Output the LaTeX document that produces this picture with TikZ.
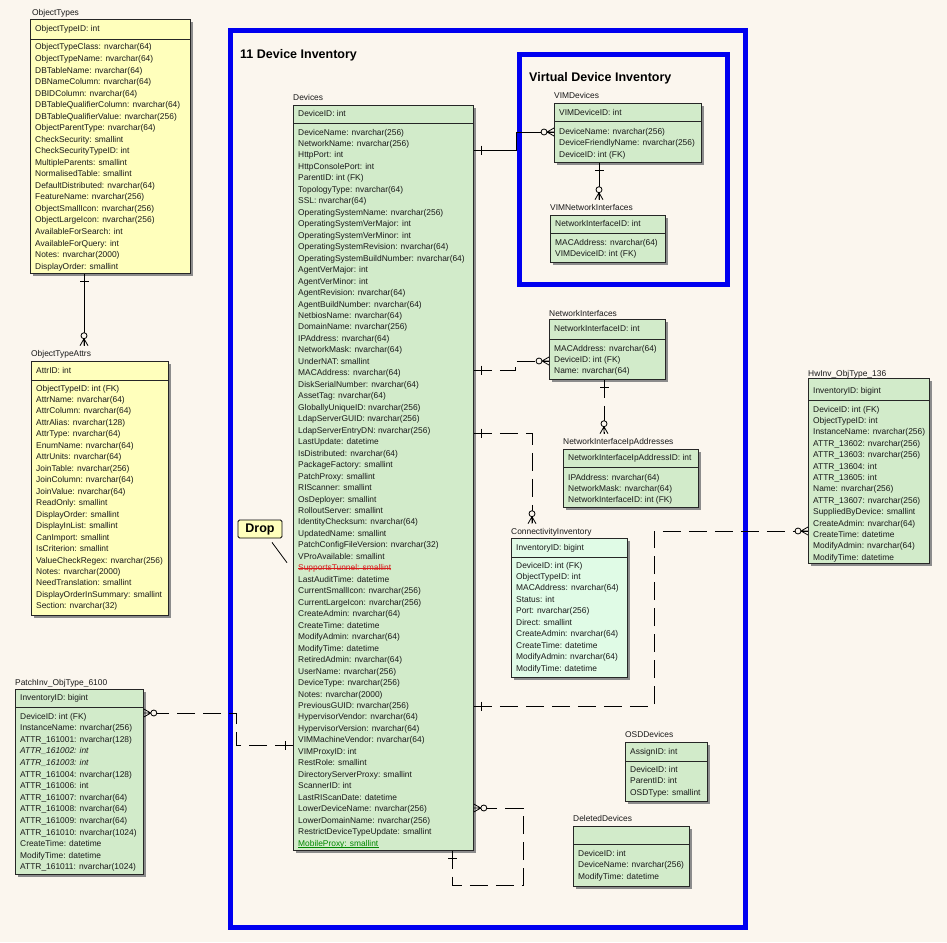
\documentclass[tikz,border=0pt]{standalone}
\usepackage{fontspec}
\setmainfont{Liberation Sans}
\usetikzlibrary{shadows,calc}

\definecolor{bg}{RGB}{251,246,238}
\definecolor{erblue}{RGB}{0,0,240}
\definecolor{ergreen}{RGB}{210,235,202}
\definecolor{ermint}{RGB}{224,251,230}
\definecolor{eryellow}{RGB}{255,255,188}
\definecolor{erred}{RGB}{215,30,30}
\definecolor{ergreentext}{RGB}{0,135,0}

\begin{document}
\begin{tikzpicture}[x=1pt, y=-1pt,
    erbox/.style={draw=black!85, line width=0.8pt, anchor=north west, inner sep=0pt,
        drop shadow={shadow xshift=3pt, shadow yshift=-3pt, fill=black!45, opacity=1}},
    erow/.style={anchor=base west, inner sep=0pt, font=\fontsize{8.4}{10}\selectfont, text=black!90},
    ertitle/.style={erow},
    erline/.style={draw=black!85, line width=0.8pt},
    rel/.style={line width=0.8pt},
    reldash/.style={rel, dash pattern=on 18pt off 8pt},
    areaframe/.style={draw=erblue, line width=5pt},
    areatitle/.style={anchor=west, inner sep=0pt, font=\bfseries\fontsize{12.5}{14}\selectfont},
    dropbox/.style={draw, line width=0.8pt, fill=eryellow, rounded corners=1.5pt, minimum width=44pt,
        minimum height=18pt, inner sep=0pt, font=\bfseries\fontsize{12.5}{14}\selectfont},
    onebar/.pic={\draw[solid, line width=0.8pt] (8,-4.5) -- (8,4.5);},
    zmany/.pic={\draw[solid, line width=0.8pt] (0,-4) -- (7,0) -- (0,4) (0,0) -- (7,0);
                \draw[solid, line width=0.8pt, fill=bg] (10,0) circle[radius=3];}
]
    \fill[bg] (0,0) rectangle (947,942);
    \useasboundingbox (0,0) rectangle (947,942);

    % subject areas
    \draw[areaframe] (230.5,30.5) rectangle (745.5,927.5);
    \node[areatitle] (inv-title) at (240,55) {11 Device Inventory};
    \draw[areaframe] (519.5,54.5) rectangle (727.5,284.5);
    \node[areatitle] (vdi-title) at (529,78) {Virtual Device Inventory};

    % ObjectTypes
    \node[erbox, fill=eryellow, minimum width=160pt, minimum height=254pt] (ot) at (30,19) {};
    \node[ertitle] (ot-title) at (32,16) {ObjectTypes};
    \draw[erline] (ot.west |- 0,39) -- (ot.east |- 0,39);
    \node[erow] (ot-key) at (35,32) {ObjectTypeID: int};
    \foreach [count=\i from 0] \t in {ObjectTypeClass: nvarchar(64), ObjectTypeName: nvarchar(64),
        DBTableName: nvarchar(64), DBNameColumn: nvarchar(64), DBIDColumn: nvarchar(64),
        DBTableQualifierColumn: nvarchar(64), DBTableQualifierValue: nvarchar(256),
        ObjectParentType: nvarchar(64), CheckSecurity: smallint, CheckSecurityTypeID: int,
        MultipleParents: smallint, NormalisedTable: smallint, DefaultDistributed: nvarchar(64),
        FeatureName: nvarchar(256), ObjectSmallIcon: nvarchar(256), ObjectLargeIcon: nvarchar(256),
        AvailableForSearch: int, AvailableForQuery: int, Notes: nvarchar(2000), DisplayOrder: smallint}
        \node[erow] (ot-\i) at (35,{50+11.53*\i}) {\t};

    % ObjectTypeAttrs
    \node[erbox, fill=eryellow, minimum width=137pt, minimum height=254pt] (ota) at (31,361) {};
    \node[ertitle] (ota-title) at (31,356) {ObjectTypeAttrs};
    \draw[erline] (ota.west |- 0,380) -- (ota.east |- 0,380);
    \node[erow] (ota-key) at (36,373) {AttrID: int};
    \foreach [count=\i from 0] \t in {ObjectTypeID: int (FK), AttrName: nvarchar(64),
        AttrColumn: nvarchar(64), AttrAlias: nvarchar(128), AttrType: nvarchar(64),
        EnumName: nvarchar(64), AttrUnits: nvarchar(64), JoinTable: nvarchar(256),
        JoinColumn: nvarchar(64), JoinValue: nvarchar(64), ReadOnly: smallint,
        DisplayOrder: smallint, DisplayInList: smallint, CanImport: smallint, IsCriterion: smallint,
        ValueCheckRegex: nvarchar(256), Notes: nvarchar(2000), NeedTranslation: smallint,
        DisplayOrderInSummary: smallint, Section: nvarchar(32)}
        \node[erow] (ota-\i) at (36,{391+11.47*\i}) {\t};

    % Devices
    \node[erbox, fill=ergreen, minimum width=180pt, minimum height=745pt] (dev) at (293,105) {};
    \node[ertitle] (dev-title) at (293,100) {Devices};
    \draw[erline] (dev.west |- 0,123) -- (dev.east |- 0,123);
    \node[erow] (dev-key) at (298,116) {DeviceID: int};
    \foreach [count=\i from 0] \t in {DeviceName: nvarchar(256), NetworkName: nvarchar(256),
        HttpPort: int, HttpConsolePort: int, ParentID: int (FK), TopologyType: nvarchar(64),
        SSL: nvarchar(64), OperatingSystemName: nvarchar(256), OperatingSystemVerMajor: int,
        OperatingSystemVerMinor: int, OperatingSystemRevision: nvarchar(64),
        OperatingSystemBuildNumber: nvarchar(64), AgentVerMajor: int, AgentVerMinor: int,
        AgentRevision: nvarchar(64), AgentBuildNumber: nvarchar(64), NetbiosName: nvarchar(64),
        DomainName: nvarchar(256), IPAddress: nvarchar(64), NetworkMask: nvarchar(64),
        UnderNAT: smallint, MACAddress: nvarchar(64), DiskSerialNumber: nvarchar(64),
        AssetTag: nvarchar(64), GloballyUniqueID: nvarchar(256), LdapServerGUID: nvarchar(256),
        LdapServerEntryDN: nvarchar(256), LastUpdate: datetime, IsDistributed: nvarchar(64),
        PackageFactory: smallint, PatchProxy: smallint, RIScanner: smallint, OsDeployer: smallint,
        RolloutServer: smallint, IdentityChecksum: nvarchar(64), UpdatedName: smallint,
        PatchConfigFileVersion: nvarchar(32), VProAvailable: smallint,
        \textcolor{erred}{SupportsTunnel: smallint},
        LastAuditTime: datetime, CurrentSmallIcon: nvarchar(256), CurrentLargeIcon: nvarchar(256),
        CreateAdmin: nvarchar(64), CreateTime: datetime, ModifyAdmin: nvarchar(64),
        ModifyTime: datetime, RetiredAdmin: nvarchar(64), UserName: nvarchar(256),
        DeviceType: nvarchar(256), Notes: nvarchar(2000), PreviousGUID: nvarchar(256),
        HypervisorVendor: nvarchar(64), HypervisorVersion: nvarchar(64),
        VIMMachineVendor: nvarchar(64), VIMProxyID: int, RestRole: smallint,
        DirectoryServerProxy: smallint, ScannerID: int, LastRIScanDate: datetime,
        LowerDeviceName: nvarchar(256), LowerDomainName: nvarchar(256),
        RestrictDeviceTypeUpdate: smallint,
        \textcolor{ergreentext}{MobileProxy: smallint}}
        \node[erow] (dev-\i) at (298,{135+11.47*\i}) {\t};
    % struck out and underlined columns
    \draw[erred, line width=0.7pt] ($(dev-38.base west)+(0,-2.6)$) -- ($(dev-38.base east)+(0,-2.6)$);
    \draw[ergreentext, line width=0.7pt] ($(dev-62.base west)+(0,1.6)$) -- ($(dev-62.base east)+(0,1.6)$);

    % VIMDevices
    \node[erbox, fill=ergreen, minimum width=147pt, minimum height=59pt] (vim) at (554,103) {};
    \node[ertitle] (vim-title) at (554,98) {VIMDevices};
    \draw[erline] (vim.west |- 0,121) -- (vim.east |- 0,121);
    \node[erow] (vim-key) at (559,115) {VIMDeviceID: int};
    \foreach [count=\i from 0] \t in {DeviceName: nvarchar(256),
        DeviceFriendlyName: nvarchar(256), DeviceID: int (FK)}
        \node[erow] (vim-\i) at (559,{134+11.5*\i}) {\t};

    % VIMNetworkInterfaces
    \node[erbox, fill=ergreen, minimum width=115pt, minimum height=47pt] (vni) at (550,215) {};
    \node[ertitle] (vni-title) at (550,210) {VIMNetworkInterfaces};
    \draw[erline] (vni.west |- 0,233) -- (vni.east |- 0,233);
    \node[erow] (vni-key) at (555,226) {NetworkInterfaceID: int};
    \foreach [count=\i from 0] \t in {MACAddress: nvarchar(64), VIMDeviceID: int (FK)}
        \node[erow] (vni-\i) at (555,{245+11.3*\i}) {\t};

    % NetworkInterfaces
    \node[erbox, fill=ergreen, minimum width=116pt, minimum height=60pt] (ni) at (549,319) {};
    \node[ertitle] (ni-title) at (549,316) {NetworkInterfaces};
    \draw[erline] (ni.west |- 0,339) -- (ni.east |- 0,339);
    \node[erow] (ni-key) at (554,331) {NetworkInterfaceID: int};
    \foreach [count=\i from 0] \t in {MACAddress: nvarchar(64), DeviceID: int (FK),
        Name: nvarchar(64)}
        \node[erow] (ni-\i) at (554,{351+11*\i}) {\t};

    % NetworkInterfaceIpAddresses
    \node[erbox, fill=ergreen, minimum width=135pt, minimum height=58pt] (nip) at (563,449) {};
    \node[ertitle] (nip-title) at (563,444) {NetworkInterfaceIpAddresses};
    \draw[erline] (nip.west |- 0,467) -- (nip.east |- 0,467);
    \node[erow] (nip-key) at (568,460) {NetworkInterfaceIpAddressID: int};
    \foreach [count=\i from 0] \t in {IPAddress: nvarchar(64), NetworkMask: nvarchar(64),
        NetworkInterfaceID: int (FK)}
        \node[erow] (nip-\i) at (568,{480+11*\i}) {\t};

    % ConnectivityInventory
    \node[erbox, fill=ermint, minimum width=116pt, minimum height=139pt] (ci) at (511,538) {};
    \node[ertitle] (ci-title) at (511,534) {ConnectivityInventory};
    \draw[erline] (ci.west |- 0,557) -- (ci.east |- 0,557);
    \node[erow] (ci-key) at (516,550) {InventoryID: bigint};
    \foreach [count=\i from 0] \t in {DeviceID: int (FK), ObjectTypeID: int,
        MACAddress: nvarchar(64), Status: int, Port: nvarchar(256), Direct: smallint,
        CreateAdmin: nvarchar(64), CreateTime: datetime, ModifyAdmin: nvarchar(64),
        ModifyTime: datetime}
        \node[erow] (ci-\i) at (516,{568+11.45*\i}) {\t};

    % HwInv_ObjType_136
    \node[erbox, fill=ergreen, minimum width=121pt, minimum height=185pt] (hw) at (808,378) {};
    \node[ertitle] (hw-title) at (808,376) {HwInv\_ObjType\_136};
    \draw[erline] (hw.west |- 0,400) -- (hw.east |- 0,400);
    \node[erow] (hw-key) at (813,393) {InventoryID: bigint};
    \foreach [count=\i from 0] \t in {DeviceID: int (FK), ObjectTypeID: int,
        InstanceName: nvarchar(256), ATTR\_13602: nvarchar(256), ATTR\_13603: nvarchar(256),
        ATTR\_13604: int, ATTR\_13605: int, Name: nvarchar(256), ATTR\_13607: nvarchar(256),
        SuppliedByDevice: smallint, CreateAdmin: nvarchar(64), CreateTime: datetime,
        ModifyAdmin: nvarchar(64), ModifyTime: datetime}
        \node[erow] (hw-\i) at (813,{412+11.4*\i}) {\t};

    % PatchInv_ObjType_6100
    \node[erbox, fill=ergreen, minimum width=128pt, minimum height=185pt] (pi) at (15,689) {};
    \node[ertitle] (pi-title) at (15,685) {PatchInv\_ObjType\_6100};
    \draw[erline] (pi.west |- 0,707) -- (pi.east |- 0,707);
    \node[erow] (pi-key) at (20,700) {InventoryID: bigint};
    \foreach [count=\i from 0] \t in {DeviceID: int (FK), InstanceName: nvarchar(256),
        ATTR\_161001: nvarchar(128), \textit{ATTR\_161002: int}, \textit{ATTR\_161003: int},
        ATTR\_161004: nvarchar(128), ATTR\_161006: int, ATTR\_161007: nvarchar(64),
        ATTR\_161008: nvarchar(64), ATTR\_161009: nvarchar(64), ATTR\_161010: nvarchar(1024),
        CreateTime: datetime, ModifyTime: datetime, ATTR\_161011: nvarchar(1024)}
        \node[erow] (pi-\i) at (20,{719+11.6*\i}) {\t};

    % OSDDevices
    \node[erbox, fill=ergreen, minimum width=82pt, minimum height=59pt] (osd) at (625,742) {};
    \node[ertitle] (osd-title) at (625,737) {OSDDevices};
    \draw[erline] (osd.west |- 0,761) -- (osd.east |- 0,761);
    \node[erow] (osd-key) at (630,754) {AssignID: int};
    \foreach [count=\i from 0] \t in {DeviceID: int, ParentID: int, OSDType: smallint}
        \node[erow] (osd-\i) at (630,{772+11.5*\i}) {\t};

    % DeletedDevices
    \node[erbox, fill=ergreen, minimum width=116pt, minimum height=60pt] (dd) at (573,826) {};
    \node[ertitle] (dd-title) at (573,821) {DeletedDevices};
    \draw[erline] (dd.west |- 0,844) -- (dd.east |- 0,844);
    \foreach [count=\i from 0] \t in {DeviceID: int, DeviceName: nvarchar(256),
        ModifyTime: datetime}
        \node[erow] (dd-\i) at (578,{856+11.5*\i}) {\t};

    % drop note
    \node[dropbox] (drop) at (260,529) {Drop};
    \draw[rel] ($(drop.south -| 272,0)+(0,4)$) -- ($(dev-38.west)+(-11,-6)$);

    % relationships
    \coordinate (ota-in) at ($(ota-title.north -| 84,0)+(0,-4)$);
    \draw[rel] (ot.south -| 84,0) -- (ota-in);
    \pic[rotate=-90] at (ot.south -| 84,0) {onebar};
    \pic[rotate=90] at (ota-in) {zmany};

    \draw[rel] (dev.east |- 0,150) -- (516,150) -- (516,132) -- (vim.west |- 0,132);
    \pic at (dev.east |- 0,150) {onebar};
    \pic[rotate=180] at (vim.west |- 0,132) {zmany};

    \coordinate (vni-in) at ($(vni-title.north -| 599,0)+(0,-4)$);
    \draw[rel] (vim.south -| 599,0) -- (vni-in);
    \pic[rotate=-90] at (vim.south -| 599,0) {onebar};
    \pic[rotate=90] at (vni-in) {zmany};

    \draw[reldash] (dev.east |- 0,370) -- (515,370) -- (515,361) -- (ni.west |- 0,361);
    \pic at (dev.east |- 0,370) {onebar};
    \pic[rotate=180] at (ni.west |- 0,361) {zmany};

    \coordinate (nip-in) at ($(nip-title.north -| 604,0)+(0,-4)$);
    \draw[reldash] (ni.south -| 604,0) -- (nip-in);
    \pic[rotate=-90] at (ni.south -| 604,0) {onebar};
    \pic[rotate=90] at (nip-in) {zmany};

    \coordinate (ci-in) at ($(ci-title.north -| 532,0)+(0,-4)$);
    \draw[reldash] (dev.east |- 0,433) -- (532,433) -- (ci-in);
    \pic at (dev.east |- 0,433) {onebar};
    \pic[rotate=90] at (ci-in) {zmany};

    \draw[reldash] (dev.east |- 0,706) -- (654,706) -- (654,531) -- (hw.west |- 0,531);
    \pic at (dev.east |- 0,706) {onebar};
    \pic[rotate=180] at (hw.west |- 0,531) {zmany};

    \draw[reldash] (dev.west |- 0,745) -- (236,745) -- (236,713) -- (pi.east |- 0,713);
    \pic[rotate=180] at (dev.west |- 0,745) {onebar};
    \pic at (pi.east |- 0,713) {zmany};

    \draw[reldash] (dev.south -| 452,0) -- (452,885) -- (523,885) -- (523,808) -- (dev.east |- 0,808);
    \pic[rotate=-90] at (dev.south -| 452,0) {onebar};
    \pic at (dev.east |- 0,808) {zmany};
\end{tikzpicture}
\end{document}
